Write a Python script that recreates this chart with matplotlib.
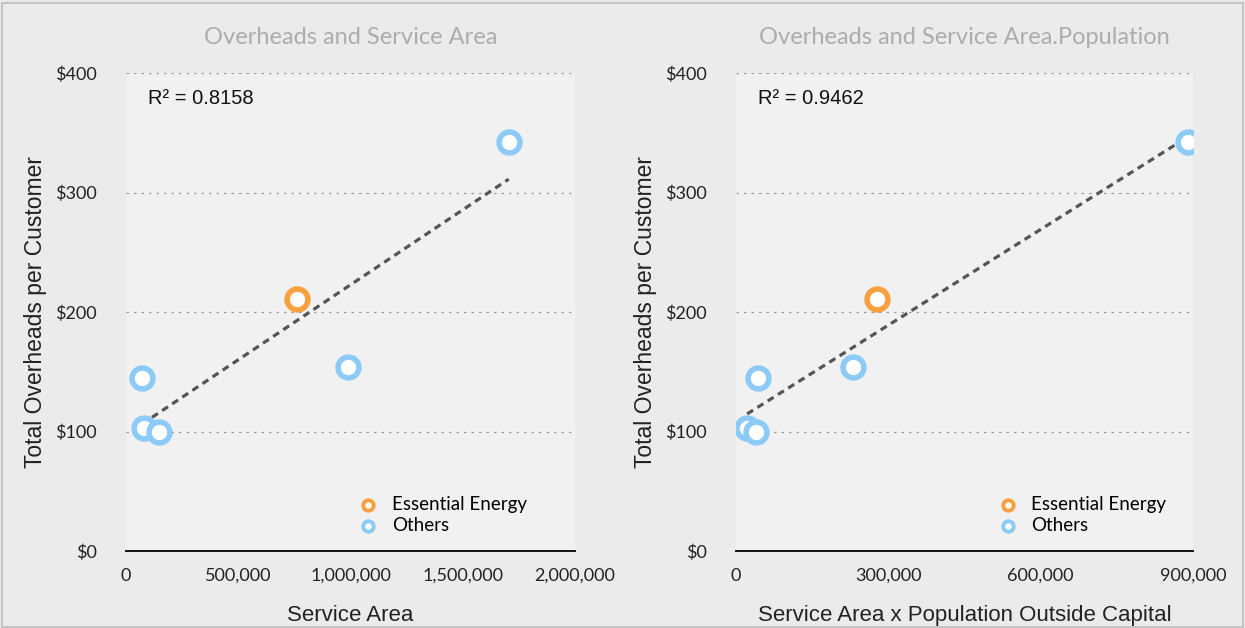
import numpy as np
import matplotlib
matplotlib.use("Agg")
import matplotlib.pyplot as plt
from matplotlib.ticker import FuncFormatter
from matplotlib.patches import Rectangle

# data
overheads = [342, 211, 154, 145, 103, 99.6]          # $ per customer
service_area = [1705000, 763000, 987000, 71000, 80000, 147000]
area_pop = [890000, 277600, 230000, 43600, 21800, 39600]
is_essential = [False, True, False, False, False, False]

titles = ["Overheads and Service Area", "Overheads and Service Area.Population"]
xlabels = ["Service Area", "Service Area x Population Outside Capital"]
r2_labels = ["R² = 0.8158", "R² = 0.9462"]
xticks = [[0, 500000, 1000000, 1500000, 2000000], [0, 300000, 600000, 900000]]
xlims = [(0, 2000000), (0, 900000)]
yticks = [0, 100, 200, 300, 400]

blue = "#8ccaf7"
orange = "#f7a03f"

fig = plt.figure(figsize=(12.45, 6.28), dpi=100)
fig.patch.set_facecolor("#ebebeb")
fig.patches.append(Rectangle((0.002, 0.002), 0.996, 0.993, transform=fig.transFigure,
                             fill=False, edgecolor="#c4c4c4", linewidth=1.5))

positions = [[0.1012, 0.1226, 0.3606, 0.7611], [0.5912, 0.1226, 0.367, 0.7611]]
xdata = [service_area, area_pop]
legend_x = [0.93, 0.978]

for i in range(2):
    ax = fig.add_axes(positions[i])
    ax.set_facecolor("#f1f1f1")
    x = np.array(xdata[i], dtype=float)
    y = np.array(overheads, dtype=float)
    ess = np.array(is_essential)

    for yt in yticks[1:]:
        ax.axhline(yt, color="#9a9a9a", linestyle=(0, (2, 4)), linewidth=0.9, zorder=1)

    # linear trendline
    m, c = np.polyfit(x, y, 1)
    xs = np.array([x.min(), x.max()])
    ax.plot(xs, m * xs + c, color="#555555", linestyle=(0, (2.2, 1.6)), linewidth=2.3, zorder=2)

    ax.scatter(x[ess], y[ess], s=225, facecolor="white", edgecolor=orange,
               linewidth=4, zorder=3, label="Essential Energy")
    ax.scatter(x[~ess], y[~ess], s=225, facecolor="white", edgecolor=blue,
               linewidth=4, zorder=3, label="Others")

    ax.set_xlim(*xlims[i])
    ax.set_ylim(0, 400)
    ax.set_xticks(xticks[i])
    ax.set_yticks(yticks)
    ax.xaxis.set_major_formatter(FuncFormatter(lambda v, p: f"{int(v):,}"))
    ax.yaxis.set_major_formatter(FuncFormatter(lambda v, p: f"${int(v)}"))
    ax.tick_params(length=0, labelsize=13, colors="#222222")
    ax.tick_params(axis="y", pad=21)
    ax.tick_params(axis="x", pad=12)
    for lab in ax.get_xticklabels() + ax.get_yticklabels():
        lab.set_family("Lato")

    for s in ["top", "right", "left"]:
        ax.spines[s].set_visible(False)
    ax.spines["bottom"].set_color("#111111")
    ax.spines["bottom"].set_linewidth(1.4)

    ax.set_xlabel(xlabels[i], fontsize=16, family="Liberation Sans", color="#222222", labelpad=15)
    ax.set_ylabel("Total Overheads per Customer", fontsize=16.5, family="Liberation Sans",
                  color="#222222", labelpad=6)
    ax.set_title(titles[i], fontsize=17, family="Lato", fontweight="normal",
                 color="#acacac", pad=21)
    ax.text(0.049, 0.946, r2_labels[i], transform=ax.transAxes, fontsize=14.5,
            family="Liberation Sans", color="#111111", va="center")

    leg = ax.legend(loc="lower right", bbox_to_anchor=(legend_x[i], 0.0),
                    frameon=False, handletextpad=0.25, labelspacing=0.2,
                    markerscale=0.5, prop={"family": "Lato", "size": 13.5})
    for h in leg.legend_handles:
        h.set_linewidth(2.8)

fig.savefig("out.png", dpi=100, facecolor=fig.get_facecolor())
